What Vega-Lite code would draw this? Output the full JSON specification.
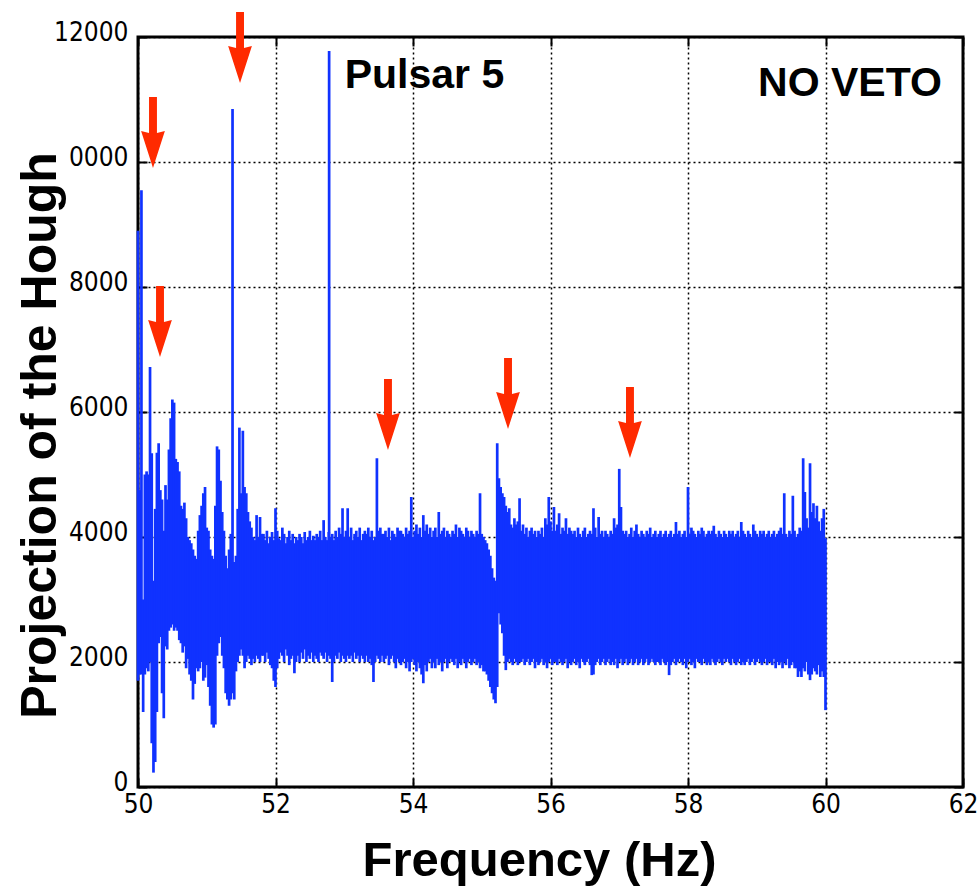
{
"$schema":"https://vega.github.io/schema/vega-lite/v6.json",
"width":825,"height":750,
"autosize":{"type":"none"},
"padding":{"left":138,"top":37,"right":15,"bottom":101},
"background":"white",
"config":{"view":{"stroke":"black","strokeWidth":3},"font":"Liberation Sans"},
"datasets":{
"band":[
{"f":50.000,"lo":1700,"hi":8900},{"f":50.025,"lo":1800,"hi":4750},{"f":50.050,"lo":1800,"hi":9550},{"f":50.075,"lo":1200,"hi":3000},{"f":50.100,"lo":1800,"hi":5000},
{"f":50.125,"lo":1900,"hi":5050},{"f":50.150,"lo":1850,"hi":5000},{"f":50.175,"lo":2000,"hi":6720},{"f":50.200,"lo":700,"hi":5340},{"f":50.225,"lo":230,"hi":3300},
{"f":50.250,"lo":400,"hi":4450},{"f":50.275,"lo":1200,"hi":5350},{"f":50.300,"lo":2300,"hi":5500},{"f":50.325,"lo":2400,"hi":4750},{"f":50.350,"lo":1500,"hi":4600},
{"f":50.375,"lo":1100,"hi":4100},{"f":50.400,"lo":2250,"hi":4830},{"f":50.425,"lo":2200,"hi":4600},{"f":50.450,"lo":2500,"hi":5400},{"f":50.475,"lo":2550,"hi":5900},
{"f":50.500,"lo":2600,"hi":6200},{"f":50.525,"lo":2500,"hi":6150},{"f":50.550,"lo":2550,"hi":5250},{"f":50.575,"lo":2500,"hi":5200},{"f":50.600,"lo":2350,"hi":5050},
{"f":50.625,"lo":2300,"hi":4500},{"f":50.650,"lo":2150,"hi":4450},{"f":50.675,"lo":2250,"hi":4550},{"f":50.700,"lo":1900,"hi":4300},{"f":50.725,"lo":2050,"hi":4000},
{"f":50.750,"lo":1800,"hi":3950},{"f":50.775,"lo":1700,"hi":3900},{"f":50.800,"lo":1400,"hi":3800},{"f":50.825,"lo":1650,"hi":3700},{"f":50.850,"lo":1900,"hi":3650},
{"f":50.875,"lo":1850,"hi":4100},{"f":50.900,"lo":1900,"hi":4350},{"f":50.925,"lo":2000,"hi":4500},{"f":50.950,"lo":1700,"hi":4700},{"f":50.975,"lo":1750,"hi":4800},
{"f":51.000,"lo":1950,"hi":4150},{"f":51.025,"lo":1600,"hi":4100},{"f":51.050,"lo":1300,"hi":3800},{"f":51.075,"lo":1000,"hi":3700},{"f":51.100,"lo":950,"hi":3650},
{"f":51.125,"lo":1000,"hi":4500},{"f":51.150,"lo":2100,"hi":5450},{"f":51.175,"lo":2300,"hi":5400},{"f":51.200,"lo":2400,"hi":4900},{"f":51.225,"lo":2100,"hi":4400},
{"f":51.250,"lo":1900,"hi":4100},{"f":51.275,"lo":1500,"hi":3700},{"f":51.300,"lo":1400,"hi":3500},{"f":51.325,"lo":1300,"hi":3800},{"f":51.350,"lo":1400,"hi":4050},
{"f":51.375,"lo":1500,"hi":10850},{"f":51.400,"lo":1400,"hi":3600},{"f":51.425,"lo":1850,"hi":3700},{"f":51.450,"lo":2000,"hi":4450},{"f":51.475,"lo":2100,"hi":5750},
{"f":51.500,"lo":2200,"hi":4700},{"f":51.525,"lo":2100,"hi":5700},{"f":51.550,"lo":1900,"hi":4800},{"f":51.575,"lo":2000,"hi":4700},{"f":51.600,"lo":2100,"hi":4400},
{"f":51.625,"lo":2050,"hi":4250},{"f":51.650,"lo":1950,"hi":4150},{"f":51.675,"lo":2050,"hi":4000},{"f":51.700,"lo":2000,"hi":3950},{"f":51.725,"lo":2100,"hi":4350},
{"f":51.750,"lo":2050,"hi":4000},{"f":51.775,"lo":2000,"hi":4320},{"f":51.800,"lo":2100,"hi":4050},
{"f":51.825,"lo":2100,"hi":4050},{"f":51.850,"lo":2000,"hi":3950},{"f":51.875,"lo":2150,"hi":4100},{"f":51.900,"lo":2050,"hi":3900},{"f":51.925,"lo":1950,"hi":4000},
{"f":51.950,"lo":1900,"hi":4080},{"f":51.975,"lo":1700,"hi":3950},{"f":52.000,"lo":1600,"hi":4460},{"f":52.025,"lo":1900,"hi":4100},{"f":52.050,"lo":2050,"hi":3980},
{"f":52.075,"lo":2150,"hi":3950},{"f":52.100,"lo":2100,"hi":4150},{"f":52.125,"lo":2000,"hi":4050},{"f":52.150,"lo":2200,"hi":3900},{"f":52.175,"lo":2100,"hi":4000},
{"f":52.200,"lo":1950,"hi":4100},{"f":52.225,"lo":2050,"hi":3950},{"f":52.250,"lo":2100,"hi":4050},{"f":52.275,"lo":1820,"hi":3900},{"f":52.300,"lo":2000,"hi":4000},
{"f":52.325,"lo":2100,"hi":3950},{"f":52.350,"lo":2000,"hi":4050},{"f":52.375,"lo":2150,"hi":4000},{"f":52.400,"lo":2050,"hi":3900},{"f":52.425,"lo":2200,"hi":4080},
{"f":52.450,"lo":2000,"hi":3950},{"f":52.475,"lo":2100,"hi":4000},{"f":52.500,"lo":2050,"hi":4100},{"f":52.525,"lo":2150,"hi":3950},{"f":52.550,"lo":2000,"hi":4020},
{"f":52.575,"lo":2100,"hi":3950},{"f":52.600,"lo":2050,"hi":4050},{"f":52.625,"lo":2000,"hi":4000},{"f":52.650,"lo":2150,"hi":4100},{"f":52.675,"lo":2100,"hi":3950},
{"f":52.700,"lo":2050,"hi":4270},{"f":52.725,"lo":2150,"hi":4000},{"f":52.750,"lo":2000,"hi":3950},{"f":52.775,"lo":2100,"hi":4080},{"f":52.780,"lo":2500,"hi":11776},{"f":52.800,"lo":2050,"hi":4000},
{"f":52.825,"lo":1680,"hi":4050},{"f":52.850,"lo":2000,"hi":3950},{"f":52.875,"lo":2100,"hi":4100},{"f":52.900,"lo":2050,"hi":4000},{"f":52.925,"lo":2150,"hi":4150},
{"f":52.950,"lo":2000,"hi":4050},{"f":52.975,"lo":2100,"hi":4460},{"f":53.000,"lo":2050,"hi":4000},{"f":53.025,"lo":2000,"hi":4100},{"f":53.050,"lo":2100,"hi":4460},
{"f":53.075,"lo":2050,"hi":4000},{"f":53.100,"lo":2100,"hi":4150},{"f":53.125,"lo":2000,"hi":3950},{"f":53.150,"lo":2150,"hi":4050},{"f":53.175,"lo":2050,"hi":4100},
{"f":53.200,"lo":2100,"hi":4000},{"f":53.225,"lo":2000,"hi":4150},{"f":53.250,"lo":2100,"hi":3950},{"f":53.275,"lo":2050,"hi":4050},{"f":53.300,"lo":2000,"hi":4100},
{"f":53.325,"lo":2100,"hi":4050},{"f":53.350,"lo":2000,"hi":4150},{"f":53.375,"lo":2050,"hi":4000},{"f":53.400,"lo":1950,"hi":4100},{"f":53.425,"lo":1680,"hi":3950},
{"f":53.450,"lo":2000,"hi":4000},{"f":53.475,"lo":2100,"hi":5260},{"f":53.500,"lo":2050,"hi":4100},{"f":53.525,"lo":2000,"hi":4150},{"f":53.550,"lo":2100,"hi":4050},
{"f":53.575,"lo":2000,"hi":4050},{"f":53.600,"lo":2050,"hi":4100},{"f":53.625,"lo":2100,"hi":4000},{"f":53.650,"lo":1950,"hi":4150},{"f":53.675,"lo":2050,"hi":3950},
{"f":53.700,"lo":2100,"hi":4100},{"f":53.725,"lo":2000,"hi":4050},{"f":53.750,"lo":1900,"hi":4000},{"f":53.775,"lo":2050,"hi":4150},{"f":53.800,"lo":2000,"hi":4100},
{"f":53.825,"lo":1950,"hi":4100},{"f":53.850,"lo":2000,"hi":4050},{"f":53.875,"lo":2050,"hi":4000},{"f":53.900,"lo":1900,"hi":4150},{"f":53.925,"lo":2000,"hi":4050},
{"f":53.950,"lo":1850,"hi":4100},{"f":53.975,"lo":2000,"hi":4640},{"f":54.000,"lo":2050,"hi":4000},{"f":54.025,"lo":1950,"hi":4100},{"f":54.050,"lo":1850,"hi":4200},
{"f":54.075,"lo":2000,"hi":4050},{"f":54.100,"lo":1900,"hi":4150},{"f":54.125,"lo":1800,"hi":4000},{"f":54.150,"lo":1660,"hi":4350},{"f":54.175,"lo":1950,"hi":4100},
{"f":54.200,"lo":1850,"hi":4200},{"f":54.225,"lo":2000,"hi":4050},{"f":54.250,"lo":2050,"hi":4150},{"f":54.275,"lo":1900,"hi":4000},{"f":54.300,"lo":2000,"hi":4100},
{"f":54.325,"lo":1900,"hi":4150},{"f":54.350,"lo":2050,"hi":4000},{"f":54.375,"lo":1950,"hi":4400},{"f":54.400,"lo":2000,"hi":4050},{"f":54.425,"lo":1850,"hi":4100},
{"f":54.450,"lo":2000,"hi":4150},{"f":54.475,"lo":2050,"hi":4000},{"f":54.500,"lo":1900,"hi":4100},{"f":54.525,"lo":2000,"hi":4050},{"f":54.550,"lo":2050,"hi":4000},
{"f":54.575,"lo":2000,"hi":4100},{"f":54.600,"lo":1950,"hi":4050},{"f":54.625,"lo":2050,"hi":4200},{"f":54.650,"lo":1900,"hi":4000},{"f":54.675,"lo":2000,"hi":4150},
{"f":54.700,"lo":1950,"hi":4100},{"f":54.725,"lo":2050,"hi":4050},{"f":54.750,"lo":2000,"hi":4000},{"f":54.775,"lo":1900,"hi":4150},{"f":54.800,"lo":2000,"hi":4100},
{"f":54.825,"lo":2050,"hi":4000},{"f":54.850,"lo":1950,"hi":4100},{"f":54.875,"lo":2000,"hi":4050},{"f":54.900,"lo":2050,"hi":4000},{"f":54.925,"lo":1950,"hi":4100},
{"f":54.950,"lo":2000,"hi":4050},{"f":54.975,"lo":1900,"hi":4700},{"f":55.000,"lo":1950,"hi":4050},{"f":55.025,"lo":1850,"hi":4000},{"f":55.050,"lo":1850,"hi":3950},
{"f":55.075,"lo":1800,"hi":3900},{"f":55.100,"lo":1700,"hi":3800},{"f":55.125,"lo":1600,"hi":3700},{"f":55.150,"lo":1500,"hi":3500},{"f":55.175,"lo":1400,"hi":3350},
{"f":55.200,"lo":1340,"hi":3300},{"f":55.225,"lo":1600,"hi":5500},{"f":55.250,"lo":2780,"hi":4940},{"f":55.275,"lo":2600,"hi":4800},{"f":55.300,"lo":2460,"hi":4700},
{"f":55.325,"lo":2100,"hi":4640},{"f":55.350,"lo":1870,"hi":4500},{"f":55.375,"lo":2000,"hi":4400},{"f":55.400,"lo":2050,"hi":4460},{"f":55.425,"lo":2000,"hi":4200},
{"f":55.450,"lo":1950,"hi":4150},{"f":55.475,"lo":2050,"hi":4300},{"f":55.500,"lo":2000,"hi":4200},{"f":55.525,"lo":1950,"hi":4250},{"f":55.550,"lo":2000,"hi":4620},
{"f":55.575,"lo":2000,"hi":4100},{"f":55.600,"lo":2050,"hi":4200},{"f":55.625,"lo":1950,"hi":4050},{"f":55.650,"lo":2000,"hi":4150},{"f":55.675,"lo":2050,"hi":4000},
{"f":55.700,"lo":1950,"hi":4100},{"f":55.725,"lo":2000,"hi":4150},{"f":55.750,"lo":2050,"hi":4050},{"f":55.775,"lo":1900,"hi":4100},{"f":55.800,"lo":2000,"hi":4000},
{"f":55.825,"lo":1950,"hi":4100},{"f":55.850,"lo":2000,"hi":4050},{"f":55.875,"lo":2050,"hi":4150},{"f":55.900,"lo":1950,"hi":4000},{"f":55.925,"lo":2000,"hi":4300},
{"f":55.950,"lo":1900,"hi":4200},{"f":55.975,"lo":2000,"hi":4640},{"f":56.000,"lo":2050,"hi":4250},{"f":56.025,"lo":1950,"hi":4100},{"f":56.050,"lo":2000,"hi":4480},
{"f":56.075,"lo":2000,"hi":4100},{"f":56.100,"lo":1950,"hi":4200},{"f":56.125,"lo":2050,"hi":4380},{"f":56.150,"lo":2000,"hi":4050},{"f":56.175,"lo":1950,"hi":4150},
{"f":56.200,"lo":2000,"hi":4100},{"f":56.225,"lo":2050,"hi":4300},{"f":56.250,"lo":1900,"hi":4050},{"f":56.275,"lo":2000,"hi":4150},{"f":56.300,"lo":1950,"hi":4100},
{"f":56.325,"lo":2000,"hi":4050},{"f":56.350,"lo":2050,"hi":4100},{"f":56.375,"lo":1950,"hi":4000},{"f":56.400,"lo":2000,"hi":4150},{"f":56.425,"lo":1900,"hi":4050},
{"f":56.450,"lo":2050,"hi":4000},{"f":56.475,"lo":2000,"hi":4100},{"f":56.500,"lo":1950,"hi":4150},{"f":56.525,"lo":2000,"hi":4000},{"f":56.550,"lo":2050,"hi":4050},
{"f":56.575,"lo":1950,"hi":4100},{"f":56.600,"lo":1790,"hi":4050},{"f":56.625,"lo":1800,"hi":4460},{"f":56.650,"lo":1950,"hi":4150},{"f":56.675,"lo":2000,"hi":4000},
{"f":56.700,"lo":2050,"hi":4320},{"f":56.725,"lo":1950,"hi":4050},{"f":56.750,"lo":2000,"hi":4100},{"f":56.775,"lo":2050,"hi":4000},{"f":56.800,"lo":1950,"hi":4100},
{"f":56.825,"lo":2000,"hi":4050},{"f":56.850,"lo":2050,"hi":4000},{"f":56.875,"lo":1950,"hi":4100},{"f":56.900,"lo":2000,"hi":4050},{"f":56.925,"lo":1950,"hi":4300},
{"f":56.950,"lo":2050,"hi":4150},{"f":56.975,"lo":1900,"hi":4200},{"f":57.000,"lo":2000,"hi":5090},{"f":57.025,"lo":2050,"hi":4480},{"f":57.050,"lo":1950,"hi":4100},
{"f":57.075,"lo":2000,"hi":4050},{"f":57.100,"lo":2050,"hi":4100},{"f":57.125,"lo":1950,"hi":4000},{"f":57.150,"lo":2000,"hi":4050},{"f":57.175,"lo":2050,"hi":4150},
{"f":57.200,"lo":1950,"hi":4000},{"f":57.225,"lo":2000,"hi":4100},{"f":57.250,"lo":2050,"hi":4200},{"f":57.275,"lo":1950,"hi":4050},{"f":57.300,"lo":2000,"hi":4000},
{"f":57.325,"lo":2050,"hi":4100},{"f":57.350,"lo":1950,"hi":4050},{"f":57.375,"lo":2000,"hi":4000},{"f":57.400,"lo":2050,"hi":4100},{"f":57.425,"lo":1950,"hi":4050},
{"f":57.450,"lo":2000,"hi":4150},{"f":57.475,"lo":2050,"hi":4000},{"f":57.500,"lo":2000,"hi":4050},{"f":57.525,"lo":1950,"hi":4100},{"f":57.550,"lo":2000,"hi":4000},
{"f":57.575,"lo":2000,"hi":4050},{"f":57.600,"lo":1950,"hi":4100},{"f":57.625,"lo":2050,"hi":4000},{"f":57.650,"lo":2000,"hi":4050},{"f":57.675,"lo":1950,"hi":4100},
{"f":57.700,"lo":2000,"hi":4000},{"f":57.725,"lo":1790,"hi":4050},{"f":57.750,"lo":1950,"hi":4100},{"f":57.775,"lo":2000,"hi":4000},{"f":57.800,"lo":2050,"hi":4050},
{"f":57.825,"lo":1950,"hi":4240},{"f":57.850,"lo":2000,"hi":4050},{"f":57.875,"lo":2050,"hi":4100},{"f":57.900,"lo":2000,"hi":4000},{"f":57.925,"lo":1950,"hi":4050},
{"f":57.950,"lo":2050,"hi":4100},{"f":57.975,"lo":1900,"hi":4000},{"f":58.000,"lo":2000,"hi":4800},{"f":58.025,"lo":2050,"hi":4050},{"f":58.050,"lo":1950,"hi":4150},
{"f":58.075,"lo":2000,"hi":4100},{"f":58.100,"lo":1900,"hi":4050},{"f":58.125,"lo":2050,"hi":4000},{"f":58.150,"lo":2000,"hi":4100},{"f":58.175,"lo":2000,"hi":4050},
{"f":58.200,"lo":1950,"hi":4150},{"f":58.225,"lo":2050,"hi":4100},{"f":58.250,"lo":2000,"hi":4000},{"f":58.275,"lo":1950,"hi":4050},{"f":58.300,"lo":2000,"hi":4100},
{"f":58.325,"lo":1950,"hi":4050},{"f":58.350,"lo":2050,"hi":4100},{"f":58.375,"lo":2000,"hi":4180},{"f":58.400,"lo":1950,"hi":4050},{"f":58.425,"lo":2000,"hi":4000},
{"f":58.450,"lo":2050,"hi":4100},{"f":58.475,"lo":2000,"hi":4050},{"f":58.500,"lo":1950,"hi":4000},{"f":58.525,"lo":2050,"hi":4100},{"f":58.550,"lo":2000,"hi":4050},
{"f":58.575,"lo":2050,"hi":4000},{"f":58.600,"lo":2000,"hi":4100},{"f":58.625,"lo":1950,"hi":4050},{"f":58.650,"lo":2050,"hi":4100},{"f":58.675,"lo":2000,"hi":4000},
{"f":58.700,"lo":1950,"hi":4050},{"f":58.725,"lo":2000,"hi":4100},{"f":58.750,"lo":2050,"hi":4000},{"f":58.775,"lo":1950,"hi":4240},{"f":58.800,"lo":2000,"hi":4100},
{"f":58.825,"lo":1950,"hi":4050},{"f":58.850,"lo":2000,"hi":4000},{"f":58.875,"lo":2050,"hi":4100},{"f":58.900,"lo":1950,"hi":4050},{"f":58.925,"lo":2000,"hi":4000},
{"f":58.950,"lo":2050,"hi":4200},{"f":58.975,"lo":1950,"hi":4100},{"f":59.000,"lo":2000,"hi":4050},{"f":59.025,"lo":2050,"hi":4000},{"f":59.050,"lo":2000,"hi":4100},
{"f":59.075,"lo":1950,"hi":4050},{"f":59.100,"lo":2000,"hi":4100},{"f":59.125,"lo":2050,"hi":4000},{"f":59.150,"lo":1950,"hi":4050},{"f":59.175,"lo":2000,"hi":4100},
{"f":59.200,"lo":2000,"hi":4000},{"f":59.225,"lo":1950,"hi":4050},{"f":59.250,"lo":2050,"hi":4100},{"f":59.275,"lo":1900,"hi":4000},{"f":59.300,"lo":2000,"hi":4050},
{"f":59.325,"lo":1950,"hi":4100},{"f":59.350,"lo":2000,"hi":4150},{"f":59.375,"lo":1900,"hi":4050},{"f":59.400,"lo":2000,"hi":4700},{"f":59.425,"lo":1950,"hi":4050},
{"f":59.450,"lo":2050,"hi":4000},{"f":59.475,"lo":1900,"hi":4100},{"f":59.500,"lo":1950,"hi":4050},{"f":59.525,"lo":2000,"hi":4660},{"f":59.550,"lo":1900,"hi":4100},
{"f":59.575,"lo":1900,"hi":4000},{"f":59.600,"lo":1760,"hi":4050},{"f":59.625,"lo":1850,"hi":4150},{"f":59.650,"lo":1760,"hi":4100},{"f":59.675,"lo":1900,"hi":5260},
{"f":59.700,"lo":1850,"hi":4720},{"f":59.725,"lo":2000,"hi":4300},{"f":59.750,"lo":1800,"hi":4150},{"f":59.775,"lo":1710,"hi":5180},{"f":59.800,"lo":1800,"hi":4400},
{"f":59.825,"lo":1900,"hi":4540},{"f":59.850,"lo":1850,"hi":4300},{"f":59.875,"lo":1800,"hi":4500},{"f":59.900,"lo":1950,"hi":4250},{"f":59.925,"lo":1760,"hi":4100},
{"f":59.950,"lo":1850,"hi":4300},{"f":59.975,"lo":1760,"hi":4450},{"f":60.000,"lo":1230,"hi":3980}
],
"arrows":[
{"f":50.218,"tip":9904},{"f":51.484,"tip":11264},{"f":50.320,"tip":6880},
{"f":53.636,"tip":5392},{"f":55.382,"tip":5728},{"f":57.156,"tip":5264}
],
"notes":[
{"f":54.167,"v":11184,"label":"Pulsar 5"},
{"f":60.356,"v":11056,"label":"NO VETO"}
]
},
"layer":[
{"data":{"name":"band"},
 "mark":{"type":"rule","color":"#1032ff","strokeWidth":2.7},
 "encoding":{
  "x":{"field":"f","type":"quantitative","scale":{"domain":[50,62],"nice":false,"zero":false},
   "axis":{"orient":"bottom","values":[50,52,54,56,58,60,62],"grid":true,"gridColor":"black","gridDash":[2,3],"gridWidth":1.5,"gridOpacity":1,
    "domain":false,"ticks":true,"tickSize":-9,"tickWidth":2,"tickColor":"black",
    "labelFont":"'Liberation Sans Narrow', 'DejaVu Sans Condensed', 'DejaVu Sans', sans-serif","labelFontSize":26,"labelColor":"black","labelPadding":13,"labelFlush":false,"labelOverlap":false,
    "title":"Frequency (Hz)","titleFont":"Liberation Sans","titleFontWeight":"bold","titleFontSize":49,"titleColor":"black",
    "titleX":401,"titleY":88,"titleBaseline":"alphabetic","titleAlign":"center","titleAnchor":null}},
  "y":{"field":"lo","type":"quantitative","scale":{"domain":[0,12000],"nice":false,"zero":false},
   "axis":{"orient":"left","values":[0,2000,4000,6000,8000,10000,12000],"grid":true,"gridColor":"black","gridDash":[2,3],"gridWidth":1.5,"gridOpacity":1,
    "domain":false,"ticks":true,"tickSize":-9,"tickWidth":2,"tickColor":"black",
    "labelExpr":"datum.value == 10000 ? '0000' : datum.value + ''",
    "labelFont":"'Liberation Sans Narrow', 'DejaVu Sans Condensed', 'DejaVu Sans', sans-serif","labelFontSize":26,"labelColor":"black","labelPadding":19,"labelOffset":-5,"labelFlush":false,"labelOverlap":false,
    "title":"Projection of the Hough","titleFont":"Liberation Sans","titleFontWeight":"bold","titleFontSize":50,"titleColor":"black",
    "titleAngle":-90,"titleX":-83,"titleY":398,"titleBaseline":"alphabetic","titleAlign":"center","titleAnchor":null}},
  "y2":{"field":"hi"}
 }},
{"data":{"name":"arrows"},
 "mark":{"type":"point","shape":"M0,0L-0.66,-2.05L-0.22,-1.95L-0.22,-3.95L0.22,-3.95L0.22,-1.95L0.66,-2.05Z","size":1296,"filled":true,"color":"#ff2a00","opacity":1,"strokeWidth":0},
 "encoding":{
  "x":{"field":"f","type":"quantitative",
   "axis":{"orient":"top","values":[50,52,54,56,58,60,62],"grid":false,"domain":false,"labels":false,"ticks":true,"tickSize":-9,"tickWidth":2,"tickColor":"black","title":null}},
  "y":{"field":"tip","type":"quantitative",
   "axis":{"orient":"right","values":[0,2000,4000,6000,8000,10000,12000],"grid":false,"domain":false,"labels":false,"ticks":true,"tickSize":-9,"tickWidth":2,"tickColor":"black","title":null}}
 }},
{"data":{"name":"notes"},
 "mark":{"type":"text","font":"Liberation Sans","fontWeight":"bold","fontSize":41,"align":"center","baseline":"alphabetic","color":"black"},
 "encoding":{
  "x":{"field":"f","type":"quantitative","axis":null},
  "y":{"field":"v","type":"quantitative","axis":null},
  "text":{"field":"label"}
 }}
],
"resolve":{"axis":{"x":"independent","y":"independent"}}
}
